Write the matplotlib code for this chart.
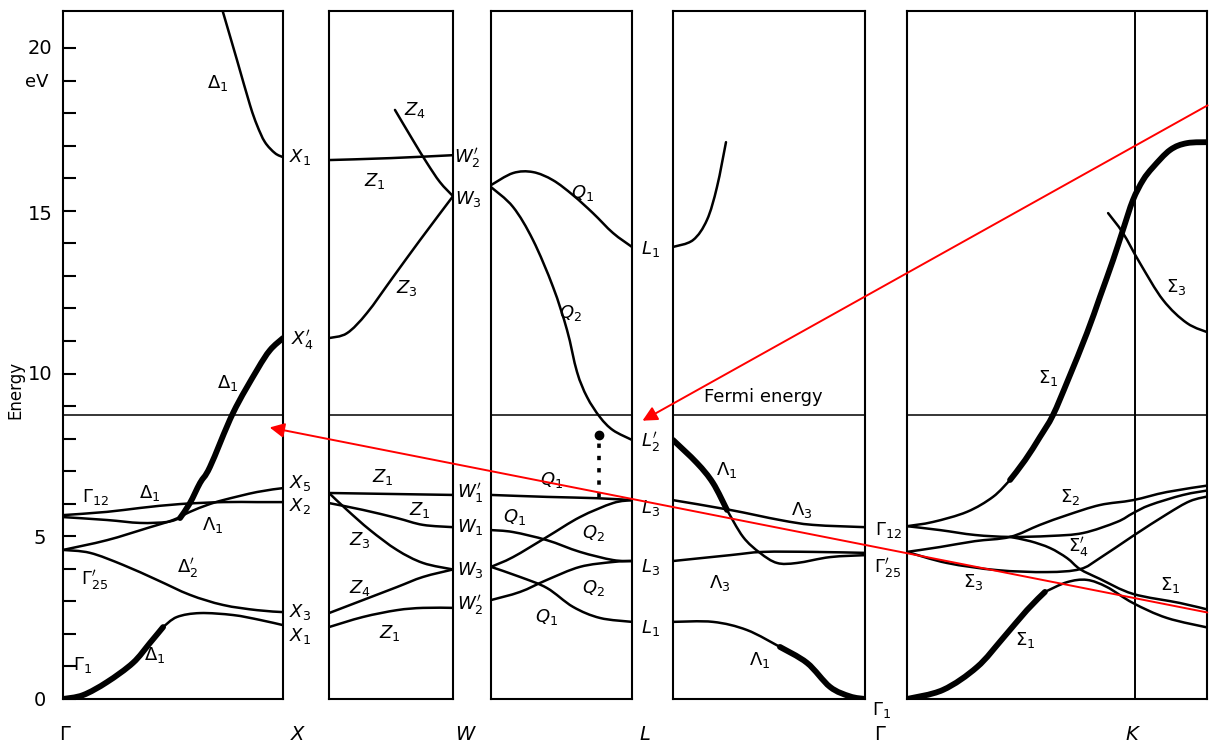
import matplotlib
matplotlib.use("Agg")
import matplotlib.pyplot as plt
from matplotlib.path import Path
from matplotlib.patches import PathPatch

W, H = 1210, 749
E_TOP = 21.14
FERMI = 8.72

# ---- Gamma -> X (Delta) : (k fraction, energy eV) ----
GX_D1_HIGH = ([0.727, 0.791, 0.85, 0.882, 0.918, 0.964, 1.0], [21.11, 19.63, 18.25, 17.63, 17.11, 16.77, 16.65])
GX_G12_X2 = ([0, 0.2, 0.35, 0.532, 0.727, 0.882, 1.0], [5.65, 5.75, 5.87, 5.99, 6.05, 6.05, 6.05])
GX_G12_LOW = ([0, 0.2, 0.35, 0.473, 0.532], [5.59, 5.5, 5.41, 5.44, 5.56])
GX_D1_SP = ([0.532, 0.577, 0.623, 0.668, 0.773, 0.882, 0.941, 1.0], [5.56, 6.02, 6.64, 7.13, 8.79, 10.11, 10.72, 11.09])
GX_G25_X5 = ([0, 0.2, 0.382, 0.5, 0.577, 0.655, 0.727, 0.882, 1.0], [4.58, 4.88, 5.25, 5.5, 5.75, 5.96, 6.11, 6.36, 6.48])
GX_D2P = ([0, 0.123, 0.273, 0.427, 0.577, 0.727, 0.882, 1.0], [4.58, 4.49, 4.12, 3.66, 3.2, 2.89, 2.73, 2.67])
GX_D1_LOW_A = ([0, 0.091, 0.2, 0.318, 0.395, 0.455], [0.0, 0.12, 0.52, 1.11, 1.72, 2.21])
GX_D1_LOW_B = ([0.455, 0.518, 0.623, 0.773, 0.895, 1.0], [2.21, 2.52, 2.64, 2.58, 2.43, 2.27])

# ---- X -> W (Z) ----
XW_Z1_HIGH = ([0, 0.5, 1.0], [16.56, 16.62, 16.71])
XW_Z4_HIGH = ([0.532, 0.677, 0.79, 0.895, 1.0], [18.1, 17.17, 16.47, 15.88, 15.45])
XW_Z3_HIGH = ([0, 0.145, 0.306, 0.516, 0.734, 1.0], [11.09, 11.24, 11.86, 12.96, 14.1, 15.45])
XW_Z1_X5 = ([0, 0.5, 1.0], [6.33, 6.3, 6.27])
XW_Z1_X2 = ([0, 0.274, 0.548, 0.758, 1.0], [6.02, 5.81, 5.56, 5.35, 5.28])
XW_Z3_LOW = ([0, 0.145, 0.331, 0.548, 0.758, 1.0], [6.33, 5.81, 5.19, 4.58, 4.18, 3.98])
XW_Z4_LOW = ([0, 0.274, 0.548, 0.758, 1.0], [2.64, 3.04, 3.44, 3.75, 3.98])
XW_Z1_LOW = ([0, 0.274, 0.548, 0.758, 1.0], [2.21, 2.52, 2.73, 2.8, 2.8])

# ---- W -> L (Q) ----
WL_Q1_HIGH = ([0, 0.156, 0.298, 0.44, 0.582, 0.723, 0.865, 1.0], [15.79, 16.16, 16.19, 15.94, 15.48, 14.93, 14.32, 13.89])
WL_Q2_HIGH = ([0, 0.156, 0.298, 0.44, 0.539, 0.61, 0.681, 0.773, 0.865, 1.0], [15.73, 15.12, 14.1, 12.66, 11.34, 10.05, 9.28, 8.66, 8.26, 7.96])
WL_Q1_W1P = ([0, 0.397, 0.752, 1.0], [6.27, 6.21, 6.17, 6.11])
WL_Q1_W1 = ([0, 0.156, 0.397, 0.631, 0.865, 1.0], [5.19, 5.13, 4.88, 4.52, 4.27, 4.24])
WL_Q2_W3 = ([0, 0.156, 0.397, 0.631, 0.865, 1.0], [4.06, 4.36, 4.98, 5.59, 6.02, 6.11])
WL_Q1_W3 = ([0, 0.206, 0.397, 0.582, 0.773, 1.0], [4.06, 3.75, 3.41, 2.83, 2.49, 2.37])
WL_Q2_W2P = ([0, 0.206, 0.397, 0.631, 0.865, 1.0], [3.04, 3.29, 3.66, 4.06, 4.21, 4.24])
WL_DOTTED = ([0.766, 0.766], [6.2, 8.1])

# ---- L -> Gamma (Lambda) ----
LG_L1_HIGH = ([0, 0.104, 0.177, 0.229, 0.276], [13.89, 14.1, 14.72, 15.73, 17.11])
LG_LAM1_A = ([0, 0.125, 0.208, 0.281], [7.96, 7.25, 6.64, 5.81])
LG_LAM1_B = ([0.281, 0.365, 0.453, 0.542, 0.646, 0.818, 1.0], [5.81, 4.98, 4.49, 4.18, 4.18, 4.36, 4.42])
LG_LAM3_HIGH = ([0, 0.297, 0.557, 0.729, 1.0], [6.11, 5.81, 5.5, 5.35, 5.28])
LG_LAM3_LOW = ([0, 0.297, 0.469, 0.729, 1.0], [4.24, 4.42, 4.52, 4.52, 4.49])
LG_LAM1_LOW_A = ([0, 0.208, 0.385, 0.557], [2.37, 2.37, 2.12, 1.6])
LG_LAM1_LOW_B = ([0.557, 0.698, 0.818, 0.922, 1.0], [1.6, 1.11, 0.37, 0.08, 0.0])

# ---- Gamma -> K (Sigma) ----
GK_S1_BIG_A = ([0, 0.114, 0.263, 0.377, 0.452], [5.31, 5.44, 5.75, 6.21, 6.73])
GK_S1_BIG_B = ([0.452, 0.518, 0.583, 0.64, 0.706, 0.789, 0.846, 0.904, 0.947, 0.991, 1.035, 1.079, 1.154, 1.228, 1.329],
               [6.73, 7.34, 8.05, 8.72, 9.8, 11.24, 12.35, 13.49, 14.41, 15.33, 15.94, 16.34, 16.87, 17.08, 17.11])
GK_S3_HIGH = ([0.882, 0.947, 1.022, 1.123, 1.228, 1.329], [14.93, 14.32, 13.39, 12.26, 11.55, 11.24])
GK_G12_MID = ([0, 0.145, 0.298, 0.452, 0.627, 0.772, 0.921, 0.991, 1.066, 1.211, 1.329],
              [5.31, 5.19, 5.04, 4.98, 5.01, 5.1, 5.44, 5.71, 5.96, 6.27, 6.42])
GK_S2 = ([0, 0.145, 0.298, 0.452, 0.583, 0.702, 0.846, 0.991, 1.14, 1.329],
         [4.52, 4.67, 4.85, 4.98, 5.35, 5.65, 5.96, 6.11, 6.36, 6.57])
GK_HUMP = ([0.452, 0.54, 0.627, 0.702, 0.759, 0.846, 0.991, 1.197, 1.329],
           [4.98, 4.85, 4.64, 4.33, 3.99, 3.69, 3.23, 2.95, 2.73])
GK_S3_S4P = ([0, 0.175, 0.395, 0.614, 0.759, 0.846, 0.991, 1.14, 1.241, 1.329],
             [4.52, 4.18, 3.96, 3.9, 3.99, 4.33, 5.01, 5.68, 6.08, 6.24])
GK_S1_LOW_A = ([0, 0.158, 0.307, 0.421, 0.526, 0.605], [0.0, 0.28, 0.98, 1.87, 2.73, 3.29])
GK_S1_LOW_B = ([0.605, 0.702, 0.789, 0.877, 0.991, 1.14, 1.329], [3.29, 3.59, 3.66, 3.44, 2.95, 2.49, 2.18])

THIN, THICK = 1.8, 4.2

plt.rcParams['mathtext.fontset'] = 'dejavusans'
fig = plt.figure(figsize=(W / 100, H / 100), dpi=100)


def panel(x0, x1, xmax):
    ax = fig.add_axes([x0 / W, 1 - 699 / H, (x1 - x0) / W, (699 - 11) / H])
    ax.set_xlim(0, xmax)
    ax.set_ylim(0, E_TOP)
    ax.set_xticks([])
    ax.set_yticks([])
    ax.patch.set_visible(False)
    for s in ax.spines.values():
        s.set_linewidth(1.5)
    ax.axhline(FERMI, color='black', lw=1.1)
    return ax


def smooth(ax, k, e, lw):
    # smooth curve through the read points (Catmull-Rom drawn as Bezier path)
    pts = list(zip(k, e))
    verts = [pts[0]]
    codes = [Path.MOVETO]
    n = len(pts)
    for i in range(n - 1):
        p0 = pts[max(i - 1, 0)]
        p1 = pts[i]
        p2 = pts[i + 1]
        p3 = pts[min(i + 2, n - 1)]
        c1 = (p1[0] + (p2[0] - p0[0]) / 6, p1[1] + (p2[1] - p0[1]) / 6)
        c2 = (p2[0] - (p3[0] - p1[0]) / 6, p2[1] - (p3[1] - p1[1]) / 6)
        verts += [c1, c2, p2]
        codes += [Path.CURVE4] * 3
    ax.add_patch(PathPatch(Path(verts, codes), fill=False, edgecolor='black', lw=lw,
                           capstyle='round', joinstyle='round'))


ax1 = panel(63, 283, 1.0)
ax2 = panel(329, 453, 1.0)
ax3 = panel(491, 632, 1.0)
ax4 = panel(673, 865, 1.0)
ax5 = panel(907, 1207, 300 / 228)
ax5.axvline(1.0, color='black', lw=1.4)

curves = [
    (ax1, GX_D1_HIGH, THIN), (ax1, GX_G12_X2, THIN), (ax1, GX_G12_LOW, THIN), (ax1, GX_D1_SP, THICK),
    (ax1, GX_G25_X5, THIN), (ax1, GX_D2P, THIN), (ax1, GX_D1_LOW_A, THICK), (ax1, GX_D1_LOW_B, THIN),
    (ax2, XW_Z1_HIGH, THIN), (ax2, XW_Z4_HIGH, THIN), (ax2, XW_Z3_HIGH, THIN), (ax2, XW_Z1_X5, THIN),
    (ax2, XW_Z1_X2, THIN), (ax2, XW_Z3_LOW, THIN), (ax2, XW_Z4_LOW, THIN), (ax2, XW_Z1_LOW, THIN),
    (ax3, WL_Q1_HIGH, THIN), (ax3, WL_Q2_HIGH, THIN), (ax3, WL_Q1_W1P, THIN), (ax3, WL_Q1_W1, THIN),
    (ax3, WL_Q2_W3, THIN), (ax3, WL_Q1_W3, THIN), (ax3, WL_Q2_W2P, THIN),
    (ax4, LG_L1_HIGH, THIN), (ax4, LG_LAM1_A, THICK), (ax4, LG_LAM1_B, THIN), (ax4, LG_LAM3_HIGH, THIN),
    (ax4, LG_LAM3_LOW, THIN), (ax4, LG_LAM1_LOW_A, THIN), (ax4, LG_LAM1_LOW_B, THICK),
    (ax5, GK_S1_BIG_A, THIN), (ax5, GK_S1_BIG_B, THICK), (ax5, GK_S3_HIGH, THIN), (ax5, GK_G12_MID, THIN),
    (ax5, GK_S2, THIN), (ax5, GK_HUMP, THIN), (ax5, GK_S3_S4P, THIN), (ax5, GK_S1_LOW_A, THICK),
    (ax5, GK_S1_LOW_B, THIN),
]
for ax, (k, e), lw in curves:
    smooth(ax, k, e, lw)

# dotted transition line at the Fermi crossing
ax3.plot(WL_DOTTED[0], WL_DOTTED[1], color='black', lw=2.6, ls=(0, (1.2, 2.2)))
ax3.plot([WL_DOTTED[0][1]], [WL_DOTTED[1][1]], 'o', color='black', ms=6)

# energy axis ticks on first panel
ax1.set_yticks(range(0, 21))
ax1.set_yticklabels([])
ax1.tick_params(axis='y', direction='in', length=9, width=1.5, left=True)


def lab(x, y, s, size=13, **kw):
    fig.text(x / W, 1 - y / H, s, ha='center', va='center', fontsize=size, **kw)


for y, s in [(48, '20'), (215, '15'), (375, '10'), (538, '5'), (700, '0')]:
    lab(40, y, s, size=14)
lab(37, 82, 'eV', size=13)
lab(15, 390, 'Energy', size=12, rotation=90)

labels = [
    (218, 83, r'$\Delta_1$'), (300, 157, r'$X_1$'), (302, 340, r"$X_4'$"), (228, 383, r'$\Delta_1$'),
    (95, 497, r'$\Gamma_{12}$'), (150, 493, r'$\Delta_1$'), (213, 525, r'$\Lambda_1$'),
    (95, 580, r"$\Gamma_{25}'$"), (188, 568, r"$\Delta_2'$"), (155, 655, r'$\Delta_1$'),
    (83, 665, r'$\Gamma_1$'),
    (300, 483, r'$X_5$'), (300, 506, r'$X_2$'), (300, 612, r'$X_3$'), (300, 636, r'$X_1$'),
    (415, 110, r'$Z_4$'), (375, 181, r'$Z_1$'), (467, 158, r"$W_2'$"), (468, 199, r'$W_3$'),
    (407, 288, r'$Z_3$'), (383, 477, r'$Z_1$'), (420, 510, r'$Z_1$'), (360, 540, r'$Z_3$'),
    (360, 588, r'$Z_4$'), (390, 633, r'$Z_1$'),
    (470, 493, r"$W_1'$"), (470, 527, r'$W_1$'), (470, 570, r'$W_3$'), (470, 605, r"$W_2'$"),
    (583, 193, r'$Q_1$'), (570, 313, r'$Q_2$'), (650, 249, r'$L_1$'),
    (552, 480, r'$Q_1$'), (515, 517, r'$Q_1$'), (593, 533, r'$Q_2$'), (593, 588, r'$Q_2$'), (547, 617, r'$Q_1$'),
    (650, 442, r"$L_2'$"), (650, 508, r'$L_3$'), (650, 567, r'$L_3$'), (650, 628, r'$L_1$'),
    (727, 470, r'$\Lambda_1$'), (802, 510, r'$\Lambda_3$'), (720, 583, r'$\Lambda_3$'),
    (760, 660, r'$\Lambda_1$'),
    (888, 530, r'$\Gamma_{12}$'), (888, 568, r"$\Gamma_{25}'$"), (882, 710, r'$\Gamma_1$'),
    (1048, 378, r'$\Sigma_1$'), (1176, 287, r'$\Sigma_3$'), (1070, 497, r'$\Sigma_2$'),
    (1078, 547, r"$\Sigma_4'$"), (973, 582, r'$\Sigma_3$'), (1170, 585, r'$\Sigma_1$'),
    (1025, 640, r'$\Sigma_1$'),
]
for x, y, s in labels:
    lab(x, y, s, size=13)

for x, s in [(65, r'$\Gamma$'), (298, r'$X$'), (466, r'$W$'), (645, r'$L$'), (880, r'$\Gamma$'),
             (1133, r'$K$')]:
    lab(x, 734, s, size=14)

fig.text(763 / W, 1 - 397 / H, 'Fermi energy', ha='center', va='center', fontsize=13,
         family=['Liberation Sans Narrow', 'DejaVu Sans'])

# red arrows on a transparent overlay so they sit above every panel
top = fig.add_axes([0, 0, 1, 1], zorder=10)
top.set_axis_off()
top.patch.set_visible(False)
top.annotate('', xy=(1.057, 8.51), xycoords=ax3.transData, xytext=(1.0, 1 - 104 / H),
             textcoords='figure fraction',
             arrowprops=dict(arrowstyle='-|>', color='red', lw=1.4, mutation_scale=22), annotation_clip=False)
top.annotate('', xy=(0.927, 8.36), xycoords=ax1.transData, xytext=(1.0, 1 - 613 / H),
             textcoords='figure fraction',
             arrowprops=dict(arrowstyle='-|>', color='red', lw=1.4, mutation_scale=22), annotation_clip=False)

fig.savefig('out.png', dpi=100)
